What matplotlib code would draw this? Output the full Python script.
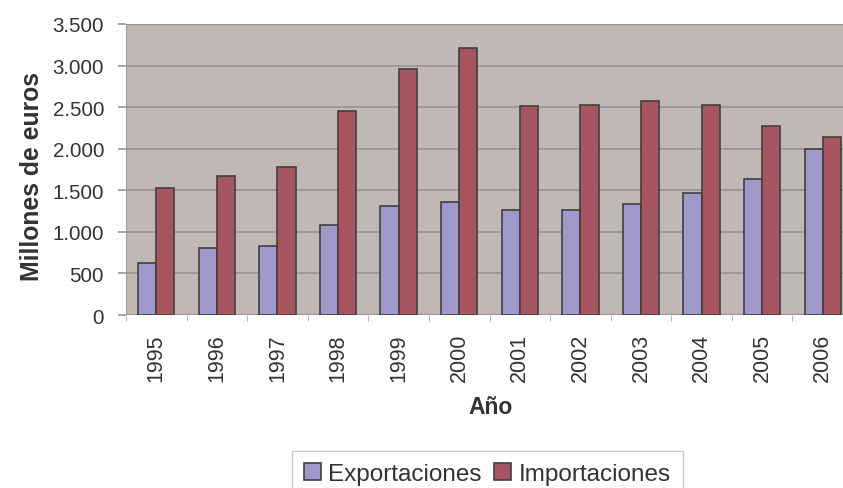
import numpy as np
import matplotlib
matplotlib.use("Agg")
import matplotlib.pyplot as plt
from matplotlib import ticker

plt.rcParams['font.family'] = ['Liberation Sans', 'DejaVu Sans']

years = ['1995', '1996', '1997', '1998', '1999', '2000',
         '2001', '2002', '2003', '2004', '2005', '2006']
exportaciones = [630, 800, 835, 1085, 1305, 1365, 1265, 1265, 1340, 1470, 1635, 2000]
importaciones = [1530, 1675, 1775, 2455, 2960, 3215, 2515, 2530, 2575, 2530, 2270, 2145]

W, H = 843, 489
fig = plt.figure(figsize=(W / 100, H / 100), dpi=100)
# plot area runs a little past the right edge of the picture
left, right, top, bottom = 126, 853, 25, 316
ax = fig.add_axes([left / W, 1 - bottom / H, (right - left) / W, (bottom - top) / H])
ax.set_facecolor('#c0b8b5')

x = np.arange(len(years))
bw = 0.3
ax.bar(x - bw / 2, exportaciones, bw, color='#9f98cb', edgecolor='#404040',
       linewidth=1.2, label='Exportaciones', zorder=3)
ax.bar(x + bw / 2, importaciones, bw, color='#a85562', edgecolor='#404040',
       linewidth=1.2, label='Importaciones', zorder=3)

ax.set_xlim(-0.5, len(years) - 0.5)
ax.set_ylim(0, 3500)
ax.yaxis.set_major_locator(ticker.MultipleLocator(500))
ax.yaxis.set_major_formatter(ticker.FuncFormatter(lambda v, p: f"{int(v):,}".replace(',', '.')))
ax.grid(axis='y', color='#9a9290', linewidth=1.2, zorder=1)

ax.set_xticks(x)
ax.set_xticklabels(years, rotation=90)
ax.set_xticks(np.arange(len(years) + 1) - 0.5, minor=True)
ax.tick_params(axis='x', which='major', length=0, pad=13, labelsize=15.5, labelcolor='#333333')
ax.tick_params(axis='x', which='minor', length=4.5, color='#aaaaaa', direction='out')
ax.tick_params(axis='y', length=5.8, color='#9a9290', width=1.2, pad=10,
               labelsize=14.8, labelcolor='#333333')

for side in ['right', 'bottom', 'left', 'top']:
    ax.spines[side].set_visible(False)
ax.axhline(3500, color='#9a9290', linewidth=1.5, zorder=2)
ax.axvline(-0.5, color='#9a9290', linewidth=1.2, zorder=2)
ax.axhline(0, color='#9a9290', linewidth=1.2, zorder=2)

ax.set_ylabel('Millones de euros', fontsize=17.8, fontweight='bold', color='#333333', labelpad=6)
ax.yaxis.label.set_y(0.478)
fig.text(491 / W, 1 - 408 / H, 'Año', fontsize=16.5, fontweight='bold',
         color='#333333', ha='center', va='center')

leg = fig.legend(loc='upper left', bbox_to_anchor=(292 / W, 1 - 452 / H), ncol=2,
                 fontsize=17.5, frameon=True, fancybox=False, handlelength=0.7,
                 handleheight=0.7, handletextpad=0.3, columnspacing=0.5,
                 borderpad=0.5, borderaxespad=0, labelcolor='#333333')
leg.get_frame().set_edgecolor('#bbbbbb')
leg.get_frame().set_linewidth(1.0)

fig.savefig('out.png', dpi=100)
